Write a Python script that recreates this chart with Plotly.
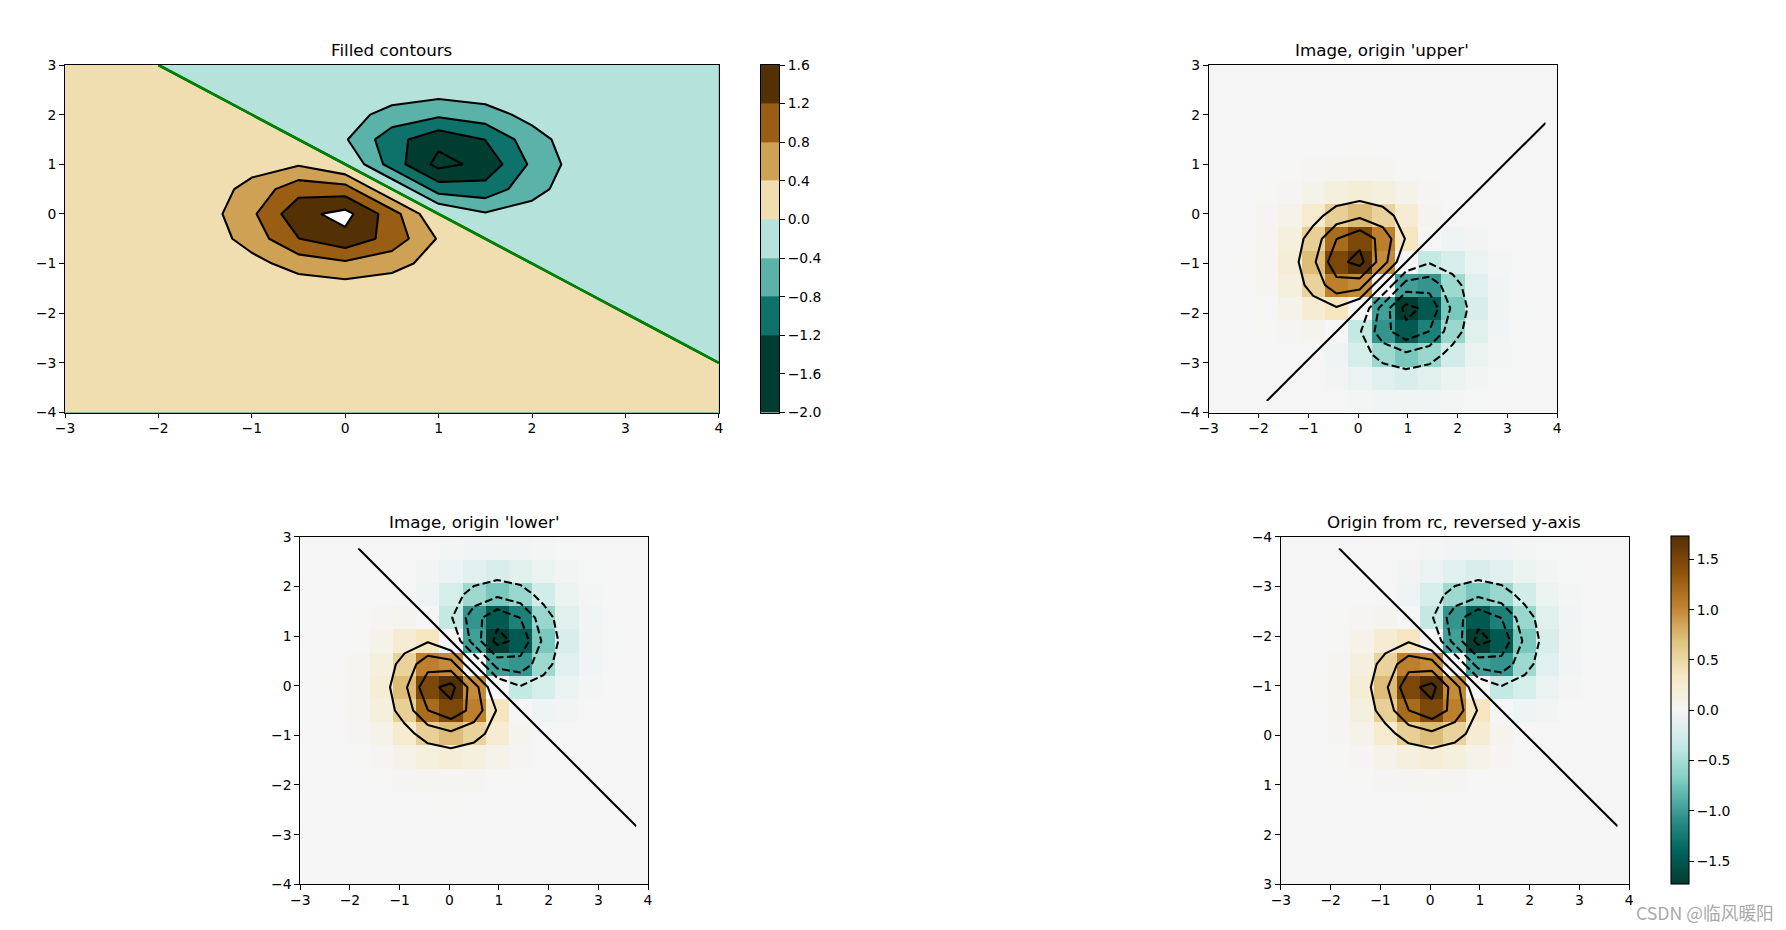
import plotly.graph_objects as go

# ---- data -----------------------------------------------------------------
x_grid = [-3, -2.5, -2, -1.5, -1, -0.5, 0, 0.5, 1, 1.5, 2, 2.5, 3, 3.5, 4]
y_grid = [-4, -3.5, -3, -2.5, -2, -1.5, -1, -0.5, 0, 0.5, 1, 1.5, 2, 2.5, 3]

# image-cell centres (15 cells across the extent -3..4 and -4..3)
x_cells = [-2.767, -2.3, -1.833, -1.367, -0.9, -0.433, 0.033, 0.5, 0.967, 1.433, 1.9, 2.367, 2.833, 3.3, 3.767]
y_cells_lower = [-3.767, -3.3, -2.833, -2.367, -1.9, -1.433, -0.967, -0.5, -0.033, 0.433, 0.9, 1.367, 1.833, 2.3, 2.767]
y_cells_upper = [2.767, 2.3, 1.833, 1.367, 0.9, 0.433, -0.033, -0.5, -0.967, -1.433, -1.9, -2.367, -2.833, -3.3, -3.767]

z_values = [
    [1e-5, 1e-5, 1e-5, 1e-5, 1e-5, 1e-5, 1e-5, 1e-5, 1e-5, 1e-5, 1e-5, 1e-5, 1e-5, 1e-5, 1e-5],
    [1e-5, 1e-5, 1e-5, 1e-5, 1e-5, 1e-5, 1e-5, 1e-5, 1e-5, 1e-5, 1e-5, 1e-5, 1e-5, 1e-5, 1e-5],
    [1e-5, 1e-5, 1e-5, 1e-5, 1e-4, 2e-4, 2e-4, 2e-4, 1e-4, 1e-5, 1e-5, 1e-5, 1e-5, 1e-5, 0],
    [1e-5, 1e-5, 1e-4, 4e-4, 0.0014, 0.003, 0.0038, 0.003, 0.0014, 4e-4, 1e-4, 1e-5, 1e-5, 0, -1e-5],
    [1e-5, 1e-4, 7e-4, 0.0039, 0.0135, 0.0285, 0.0365, 0.0283, 0.0133, 0.0037, 6e-4, 1e-4, 0, -1e-5, -1e-5],
    [1e-5, 4e-4, 0.0039, 0.0222, 0.0775, 0.1638, 0.2094, 0.1612, 0.0738, 0.0192, 0.0025, 0, -1e-4, -1e-5, -1e-5],
    [1e-4, 0.0014, 0.0135, 0.0775, 0.27, 0.5691, 0.7223, 0.5445, 0.2341, 0.0491, 0, -0.0025, -6e-4, -1e-4, -1e-5],
    [2e-4, 0.003, 0.0285, 0.1638, 0.5691, 1.1909, 1.48, 1.0489, 0.3622, 0, -0.0491, -0.0192, -0.0037, -4e-4, -1e-5],
    [2e-4, 0.0038, 0.0365, 0.2094, 0.7223, 1.48, 1.7293, 0.9846, 0, -0.3622, -0.2341, -0.0738, -0.0133, -0.0014, -1e-4],
    [2e-4, 0.003, 0.0283, 0.1612, 0.5445, 1.0489, 0.9846, 0, -0.9846, -1.0489, -0.5445, -0.1612, -0.0283, -0.003, -2e-4],
    [1e-4, 0.0014, 0.0133, 0.0738, 0.2341, 0.3622, 0, -0.9846, -1.7293, -1.48, -0.7223, -0.2094, -0.0365, -0.0038, -2e-4],
    [1e-5, 4e-4, 0.0037, 0.0192, 0.0491, 0, -0.3622, -1.0489, -1.48, -1.1909, -0.5691, -0.1638, -0.0285, -0.003, -2e-4],
    [1e-5, 1e-4, 6e-4, 0.0025, 0, -0.0491, -0.2341, -0.5445, -0.7223, -0.5691, -0.27, -0.0775, -0.0135, -0.0014, -1e-4],
    [1e-5, 1e-5, 1e-4, 0, -0.0025, -0.0192, -0.0738, -0.1612, -0.2094, -0.1638, -0.0775, -0.0222, -0.0039, -4e-4, -1e-5],
    [1e-5, 1e-5, 0, -1e-4, -6e-4, -0.0037, -0.0133, -0.0283, -0.0365, -0.0285, -0.0135, -0.0039, -7e-4, -1e-4, -1e-5],
]
z_limit = 1.7293

levels = [-2.0, -1.6, -1.2, -0.8, -0.4, 0.0, 0.4, 0.8, 1.2, 1.6]
level_labels = ["−2.0", "−1.6", "−1.2", "−0.8", "−0.4", "0.0", "0.4", "0.8", "1.2", "1.6"]
band_edges = [-2.1, -1.6, -1.2, -0.8, -0.4, 0.0, 0.4, 0.8, 1.2, 1.7]
band_middles = [-1.8, -1.4, -1.0, -0.6, -0.2, 0.2, 0.6, 1.0, 1.4]
band_colors = ["#003C30", "#003C30", "#0E726A", "#5AB2A8", "#B5E3DC", "#F0DEB1", "#CFA155", "#995D13", "#543005"]

x_ticks = [-3, -2, -1, 0, 1, 2, 3, 4]
y_ticks = [-4, -3, -2, -1, 0, 1, 2, 3]
cbar_ticks = [-1.5, -1.0, -0.5, 0.0, 0.5, 1.0, 1.5]
cbar_labels = ["−1.5", "−1.0", "−0.5", "0.0", "0.5", "1.0", "1.5"]
brbg_r = ["#003C30", "#01665E", "#35978F", "#80CDC1", "#C7EAE5", "#F5F5F5", "#F6E8C3", "#DFC27D", "#BF812D", "#8C510A", "#543005"]

titles = ["Filled contours", "Image, origin 'upper'", "Image, origin 'lower'", "Origin from rc, reversed y-axis"]
watermark = "CSDN @临风暖阳"

# ---- page geometry (the page's own body margin is removed when it loads) ----
W, H = 1786, 930
boxes = {
    "": (65.0, 718.8, 65.0, 412.5),
    "2": (1208.7, 1557.2, 65.0, 412.5),
    "3": (300.3, 648.0, 536.7, 884.3),
    "4": (1280.9, 1629.2, 536.7, 884.3),
    "5": (761.0, 779.0, 65.0, 412.5),
}
BLACK = "#000000"
TICK = dict(size=13.9, color=BLACK, family="DejaVu Sans")


def fx(px):
    return px / W


def fy(py):
    return 1 - py / H


def dom_x(b):
    return [fx(b[0]), fx(b[1])]


def dom_y(b):
    return [fy(b[3]), fy(b[2])]


# stepped colour scale for the filled contours: white above the last level
stepped = []
for k, c in enumerate(band_colors):
    lo = 0.0 if k == 0 else round(0.05 + 0.1 * k, 4)
    stepped += [[lo, c], [round(0.15 + 0.1 * k, 4), c]]
stepped += [[0.95, "#FFFFFF"], [1.0, "#FFFFFF"]]
continuous = [[i / 10, c] for i, c in enumerate(brbg_r)]

fig = go.Figure()

# panel 1: filled contours
fig.add_trace(go.Contour(
    x=x_grid, y=y_grid, z=z_values, autocontour=False, showscale=False, hoverinfo="skip",
    contours=dict(start=levels[0], end=levels[-1], size=0.4, coloring="fill", showlines=False),
    colorscale=stepped, line=dict(width=0, smoothing=0), xaxis="x", yaxis="y"))
fig.add_trace(go.Contour(
    x=x_grid, y=y_grid, z=z_values, autocontour=False, showscale=False, hoverinfo="skip",
    contours=dict(start=levels[0], end=levels[-1], size=0.4, coloring="none"),
    line=dict(color=BLACK, width=2.08, smoothing=0), xaxis="x", yaxis="y"))
fig.add_trace(go.Contour(
    x=x_grid, y=y_grid, z=z_values, autocontour=False, showscale=False, hoverinfo="skip",
    contours=dict(start=0, end=0, size=1, coloring="none"),
    line=dict(color="#008000", width=2.78, smoothing=0), xaxis="x", yaxis="y"))

# stepped colour bar of panel 1, a heatmap on its own axes
fig.add_trace(go.Heatmap(
    x=[-0.1, 1.1], y=band_edges, z=[[m] for m in band_middles], zmin=-2.2, zmax=1.8,
    colorscale=stepped, showscale=False, hoverinfo="skip", xaxis="x5", yaxis="y5"))

# panels 2-4: image with contour overlay
image_panels = [("2", "x2", "y2", y_cells_upper), ("3", "x3", "y3", y_cells_lower), ("4", "x4", "y4", y_cells_upper)]
for key, xa, ya, ys in image_panels:
    hm = dict(x=x_cells, y=ys, z=z_values, zmin=-z_limit, zmax=z_limit, colorscale=continuous,
              hoverinfo="skip", xaxis=xa, yaxis=ya, showscale=False)
    if key == "4":
        b = boxes["4"]
        hm.update(showscale=True, colorbar=dict(
            x=fx(1670.6), xanchor="left", xref="paper", y=dom_y(b)[0], yanchor="bottom", yref="paper",
            len=(b[3] - b[2]) / H, lenmode="fraction", thickness=17.6, thicknessmode="pixels",
            xpad=0, ypad=0, outlinecolor=BLACK, outlinewidth=1.1,
            ticks="outside", ticklen=4.9, tickwidth=1.1, tickcolor=BLACK,
            tickmode="array", tickvals=cbar_ticks, ticktext=cbar_labels, tickfont=TICK))
    fig.add_trace(go.Heatmap(**hm))
    fig.add_trace(go.Contour(
        x=x_cells, y=ys, z=z_values, autocontour=False, showscale=False, hoverinfo="skip",
        contours=dict(start=levels[0], end=levels[4], size=0.4, coloring="none"),
        line=dict(color=BLACK, width=2.08, smoothing=0, dash="7.7px,3.3px"), xaxis=xa, yaxis=ya))
    fig.add_trace(go.Contour(
        x=x_cells, y=ys, z=z_values, autocontour=False, showscale=False, hoverinfo="skip",
        contours=dict(start=levels[5], end=levels[-1], size=0.4, coloring="none"),
        line=dict(color=BLACK, width=2.08, smoothing=0), xaxis=xa, yaxis=ya))

layout = dict(width=W, height=H, margin=dict(l=0, r=0, t=0, b=0, autoexpand=False), autosize=False,
              paper_bgcolor="#FFFFFF", plot_bgcolor="#FFFFFF", showlegend=False,
              font=dict(family="DejaVu Sans", color=BLACK))
axis_common = dict(showgrid=False, zeroline=False, showline=True, mirror=True, linecolor=BLACK, linewidth=1.1,
                   ticks="outside", ticklen=4.9, tickwidth=1.1, tickcolor=BLACK, tickfont=TICK)
for key in ["", "2", "3", "4"]:
    b = boxes[key]
    yrange = [3, -4] if key == "4" else [-4, 3]
    layout["xaxis" + key] = dict(axis_common, domain=dom_x(b), range=[-3, 4], anchor="y" + key,
                                 tickmode="array", tickvals=x_ticks, ticklabelstandoff=-2)
    layout["yaxis" + key] = dict(axis_common, domain=dom_y(b), range=yrange, anchor="x" + key,
                                 tickmode="array", tickvals=y_ticks)
b = boxes["5"]
layout["xaxis5"] = dict(domain=dom_x(b), range=[0, 1], anchor="y5", showgrid=False, zeroline=False,
                        showline=True, mirror=True, linecolor=BLACK, linewidth=1.1, showticklabels=False, ticks="")
layout["yaxis5"] = dict(axis_common, domain=dom_y(b), range=[levels[0], levels[-1]], anchor="x5", side="right",
                        tickmode="array", tickvals=levels, ticktext=level_labels)

title_spots = [((65.0 + 718.8) / 2, 49.5), ((1208.7 + 1557.2) / 2 - 1, 49.5), ((300.3 + 648.0) / 2, 522), ((1280.9 + 1629.2) / 2 - 1, 522)]
annotations = []
for t, (px, py) in zip(titles, title_spots):
    annotations.append(dict(text=t, x=fx(px), y=fy(py), xref="paper", yref="paper", showarrow=False,
                            xanchor="center", yanchor="middle", font=dict(size=16.7, color=BLACK, family="DejaVu Sans")))
annotations.append(dict(text=watermark, x=fx(1705), y=fy(912), xref="paper", yref="paper", showarrow=False,
                        xanchor="center", yanchor="middle",
                        font=dict(size=17.7, color="#A8A8A8", family="Noto Sans CJK SC")))
layout["annotations"] = annotations
fig.update_layout(**layout)

fig.write_html("out.html", config=dict(displayModeBar=False),
               post_script="document.body.style.margin='0';document.documentElement.style.overflow='hidden';")
